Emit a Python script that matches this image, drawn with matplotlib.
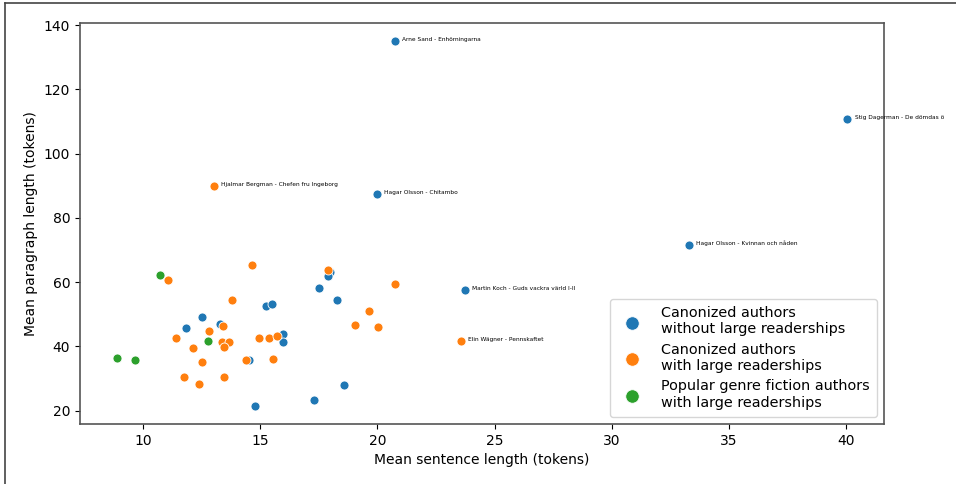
import matplotlib.pyplot as plt
from matplotlib.lines import Line2D

# canonized authors without large readerships
blue_x = [20.74, 40.05, 19.97, 33.3, 23.73, 17.97, 17.89, 17.50, 18.28, 15.27,
          15.50, 12.51, 13.30, 11.86, 15.98, 15.98, 14.53, 18.58, 17.32, 14.80]
blue_y = [135.0, 110.9, 87.5, 71.6, 57.5, 63.1, 61.9, 58.3, 54.4, 52.5,
          53.3, 49.1, 47.0, 45.7, 43.7, 41.5, 35.9, 28.1, 23.4, 21.5]
blue_titles = ["Arne Sand - Enhörningarna", "Stig Dagerman - De dömdas ö",
               "Hagar Olsson - Chitambo", "Hagar Olsson - Kvinnan och nåden",
               "Martin Koch - Guds vackra värld I-II"] + [""] * 15

# canonized authors with large readerships
orange_x = [13.03, 23.55, 17.89, 13.42, 12.81, 11.41, 12.16, 13.37, 13.68, 13.48,
            13.82, 14.66, 11.08, 14.97, 15.36, 15.74, 14.38, 15.54, 12.53, 11.75,
            13.48, 12.39, 20.74, 19.66, 19.05, 20.05]
orange_y = [90.0, 41.6, 63.75, 46.25, 44.7, 42.5, 39.6, 41.3, 41.3, 39.8,
            54.3, 65.3, 60.7, 42.6, 42.5, 43.2, 35.6, 36.2, 35.1, 30.4,
            30.5, 28.3, 59.4, 50.9, 46.7, 45.9]
orange_titles = ["Hjalmar Bergman - Chefen fru Ingeborg",
                 "Elin Wägner - Pennskaftet"] + [""] * 24

# popular genre fiction authors with large readerships
green_x = [10.74, 12.80, 8.88, 9.65]
green_y = [62.2, 41.7, 36.3, 35.8]
green_titles = [""] * 4

groups = [
    ("Canonized authors\nwithout large readerships", "#1f77b4", blue_x, blue_y, blue_titles),
    ("Canonized authors\nwith large readerships", "#ff7f0e", orange_x, orange_y, orange_titles),
    ("Popular genre fiction authors\nwith large readerships", "#2ca02c", green_x, green_y, green_titles),
]

fig = plt.figure(figsize=(9.56, 4.84), dpi=100)
ax = fig.add_axes([0.0837, 0.124, 0.841, 0.8285])

for label, color, xs, ys, titles in groups:
    ax.scatter(xs, ys, s=42, color=color, edgecolors="white", linewidths=0.6, label=label)
    for x, y, t in zip(xs, ys, titles):
        if t:
            ax.text(x + 0.3, y, t, fontsize=4.2)

for s in ax.spines.values():
    s.set_color("#555555")
    s.set_linewidth(1.2)
ax.tick_params(colors="black", labelsize=10)

ax.set_xlabel("Mean sentence length (tokens)", fontsize=10)
ax.set_ylabel("Mean paragraph length (tokens)", fontsize=10)
ax.legend(loc="lower right", fontsize=10.4, markerscale=1.5, handletextpad=1.0,
          borderpad=0.5, labelspacing=0.45)

# outer frame (only top and left edges visible in the crop)
fig.add_artist(Line2D([4.5 / 956, 1], [1 - 2.5 / 484, 1 - 2.5 / 484], color="#444444", lw=1.2))
fig.add_artist(Line2D([4.5 / 956, 4.5 / 956], [0, 1 - 2.5 / 484], color="#444444", lw=1.2))

fig.savefig("out.png", dpi=100)
